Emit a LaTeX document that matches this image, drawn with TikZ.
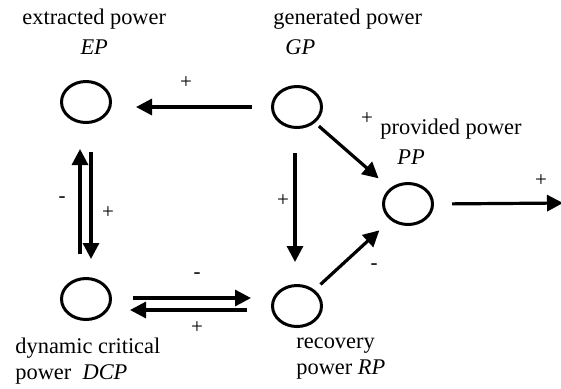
\documentclass[tikz,border=0pt]{standalone}
\usepackage{fontspec}
\setmainfont{Liberation Serif}
\usetikzlibrary{shapes.geometric,arrows.meta}

\tikzset{
  state/.style={ellipse, draw, line width=1.5pt, minimum width=24.5pt, minimum height=20.5pt, inner sep=0pt},
  flow/.style={line width=1.6pt, -{Triangle[length=8pt,width=8pt]}},
  sign/.style={font=\fontsize{10.5}{11}\selectfont, inner sep=0pt},
  lbl/.style={inner sep=0pt, anchor=north west, font=\fontsize{11.2}{15}\selectfont}
}

\begin{document}
\begin{tikzpicture}[x=0.5pt, y=-0.5pt]

\useasboundingbox (0,0) rectangle (561,388);

% Power states
\node[state] (EP)  at (86,102) {};
\node[state] (GP)  at (297,107) {};
\node[state] (PP)  at (408,204) {};
\node[state] (DCP) at (86,299) {};
\node[state] (RP)  at (297,306) {};
\coordinate (out) at (563,203);

% Labels of the states
\node[lbl, align=center] (lEP) at (22,9) {extracted power\\\textit{EP}};
\node[lbl, align=left] (lGP) at (273,9) {generated power\\\hspace*{6pt}\textit{GP}};
\node[lbl, align=left] (lPP) at (380,119) {provided power\\\hspace*{8.5pt}\textit{PP}};
\node[lbl, align=left, font=\fontsize{11.2}{13}\selectfont] (lDCP) at (15,338) {dynamic critical\\power\ \ \textit{DCP}};
\node[lbl, align=left, font=\fontsize{11.2}{13}\selectfont] (lRP) at (296,338) {recovery\\power \textit{RP}};

% Flows between the states
\draw[flow, shorten <=9.5pt, shorten >=12pt] (GP.west) -- (GP.west -| EP.east);
\draw[flow, shorten <=12pt, shorten >=11pt] ([xshift=-1pt]GP.south) -- ([xshift=-1pt]GP.south |- RP.north);
\draw[flow, shorten <=2.5pt, shorten >=7.5pt] (GP) -- (PP);
\draw[flow, shorten <=4pt, shorten >=7.5pt] (RP) -- (PP);
\draw[flow, shorten <=9pt] (PP.east) -- (out);
\draw[flow, shorten <=10.5pt, shorten >=10pt] ([yshift=0.5pt]DCP.east) -- ([yshift=0.5pt]DCP.east -| RP.west);
\draw[flow, shorten <=12pt, shorten >=9pt] ([yshift=-5.5pt]DCP.east -| RP.west) -- ([yshift=-5.5pt]DCP.east);
\draw[flow, shorten <=11.5pt, shorten >=12.5pt] ([xshift=-3pt]DCP.north) -- ([xshift=-3pt]DCP.north |- EP.south);
\draw[flow, shorten <=14pt, shorten >=9pt] ([xshift=2.5pt]EP.south) -- ([xshift=2.5pt]EP.south |- DCP.north);

% Signs of the flows
\node[sign] (s1) at (186,83) {+};
\node[sign] (s2) at (62,200) {-};
\node[sign] (s3) at (108,213) {+};
\node[sign] (s4) at (283,201) {+};
\node[sign] (s5) at (367,119) {+};
\node[sign] (s6) at (374,267) {-};
\node[sign] (s7) at (197,276) {-};
\node[sign] (s8) at (197,328) {+};
\node[sign] (s9) at (541,181) {+};

\end{tikzpicture}
\end{document}
